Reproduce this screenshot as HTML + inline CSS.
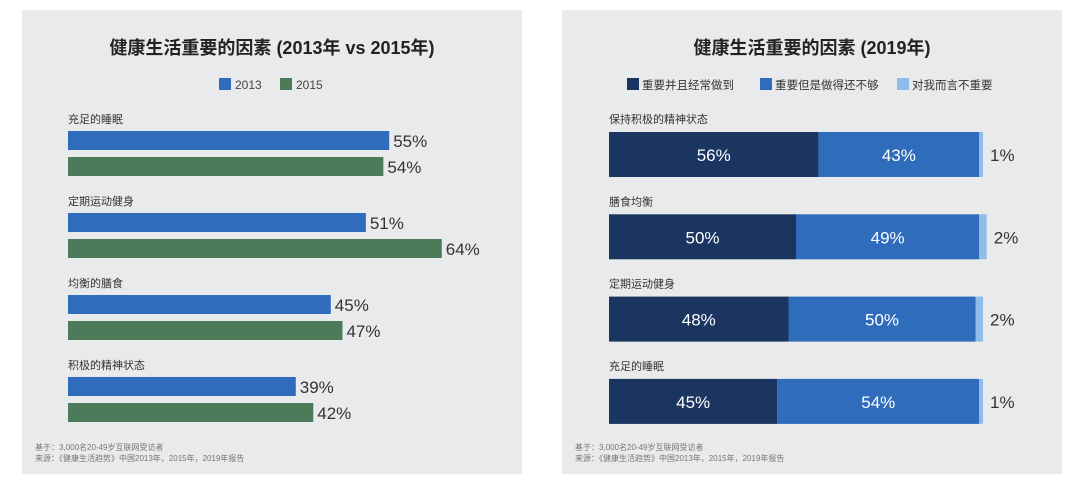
<!DOCTYPE html>
<html><head><meta charset="utf-8"><style>
body{margin:0;width:1080px;height:488px;background:#fff;position:relative;overflow:hidden;font-family:"Liberation Sans","Noto Sans CJK SC",sans-serif;}
.panel{position:absolute;top:10px;width:500px;height:464px;background:#e9eaec;}
svg{position:absolute;left:0;top:0;}
</style></head><body>
<div class="panel" style="left:22px"></div>
<div class="panel" style="left:562px"></div>
<svg width="1080" height="488" id="c" font-family="Liberation Sans, Noto Sans CJK SC, sans-serif">
<text x="272" y="54" text-anchor="middle" font-size="18" font-weight="bold" fill="#222">健康生活重要的因素 (2013年 vs 2015年)</text>
<rect x="219" y="78" width="12" height="12" fill="#2f6cbc"/>
<text x="235" y="89" font-size="12" fill="#444">2013</text>
<rect x="280" y="78" width="12" height="12" fill="#4b7b58"/>
<text x="296" y="89" font-size="12" fill="#444">2015</text>
<text x="812" y="54" text-anchor="middle" font-size="18" font-weight="bold" fill="#222">健康生活重要的因素 (2019年)</text>
<rect x="627" y="78" width="12" height="12" fill="#1b3561"/>
<text x="642" y="89" font-size="11.5" fill="#333">重要并且经常做到</text>
<rect x="760" y="78" width="12" height="12" fill="#2f6cbc"/>
<text x="775" y="89" font-size="11.5" fill="#333">重要但是做得还不够</text>
<rect x="897" y="78" width="12" height="12" fill="#8fbde9"/>
<text x="912" y="89" font-size="11.5" fill="#333">对我而言不重要</text>
<g font-size="8" fill="#777">
<text x="35" y="450">基于：3,000名20-49岁互联网受访者</text>
<text x="35" y="461">来源：《健康生活趋势》中国2013年，2015年，2019年报告</text>
<text x="575" y="450">基于：3,000名20-49岁互联网受访者</text>
<text x="575" y="461">来源：《健康生活趋势》中国2013年，2015年，2019年报告</text>
</g>
</svg>
<script>
const leftCats=["充足的睡眠","定期运动健身","均衡的膳食","积极的精神状态"];
const v2013=[55,51,45,39];
const v2015=[54,64,47,42];
const rightCats=["保持积极的精神状态","膳食均衡","定期运动健身","充足的睡眠"];
const often=[56,50,48,45];
const notEnough=[43,49,50,54];
const unimportant=[1,2,2,1];
const svg=document.getElementById('c');
const NS='http://www.w3.org/2000/svg';
function mk(t,a,txt){const e=document.createElementNS(NS,t);for(const k in a)e.setAttribute(k,a[k]);if(txt!==undefined)e.textContent=txt;svg.appendChild(e);return e;}
const lx=v=>68+v*5.84;
const ly=i=>131+i*82;
leftCats.forEach((c,i)=>{
 let t=mk('text',{x:68,y:ly(i)-8,'font-size':11,fill:'#333'},c);
 
 
 [[v2013,'#2f6cbc',0],[v2015,'#4b7b58',26]].forEach(([arr,col,off])=>{
  let r=mk('rect',{x:68,y:ly(i)+off,width:lx(arr[i])-68,height:19,fill:col});
  
  
  let l=mk('text',{x:lx(arr[i])+4,y:ly(i)+off+16,'font-size':17,fill:'#333'},arr[i]+'%');
  
  
 });
});
const rx=v=>609+v*3.74;
const ry=i=>132+i*82.3;
rightCats.forEach((c,i)=>{
 let t=mk('text',{x:609,y:ry(i)-9,'font-size':11,fill:'#333'},c);
 
 
 let s=0;
 [[often,'#1b3561'],[notEnough,'#2f6cbc'],[unimportant,'#8fbde9']].forEach(([arr,col],k)=>{
  let r=mk('rect',{x:rx(s),y:ry(i),width:rx(s+arr[i])-rx(s),height:45,fill:col});
  
  
  let l;
  if(k<2) l=mk('text',{x:(rx(s)+rx(s+arr[i]))/2,y:ry(i)+29,'font-size':17,fill:'#fff','text-anchor':'middle'},arr[i]+'%');
  else l=mk('text',{x:rx(s+arr[i])+7,y:ry(i)+29,'font-size':17,fill:'#333'},arr[i]+'%');
  
  
  s+=arr[i];
 });
});
</script>
</body></html>
